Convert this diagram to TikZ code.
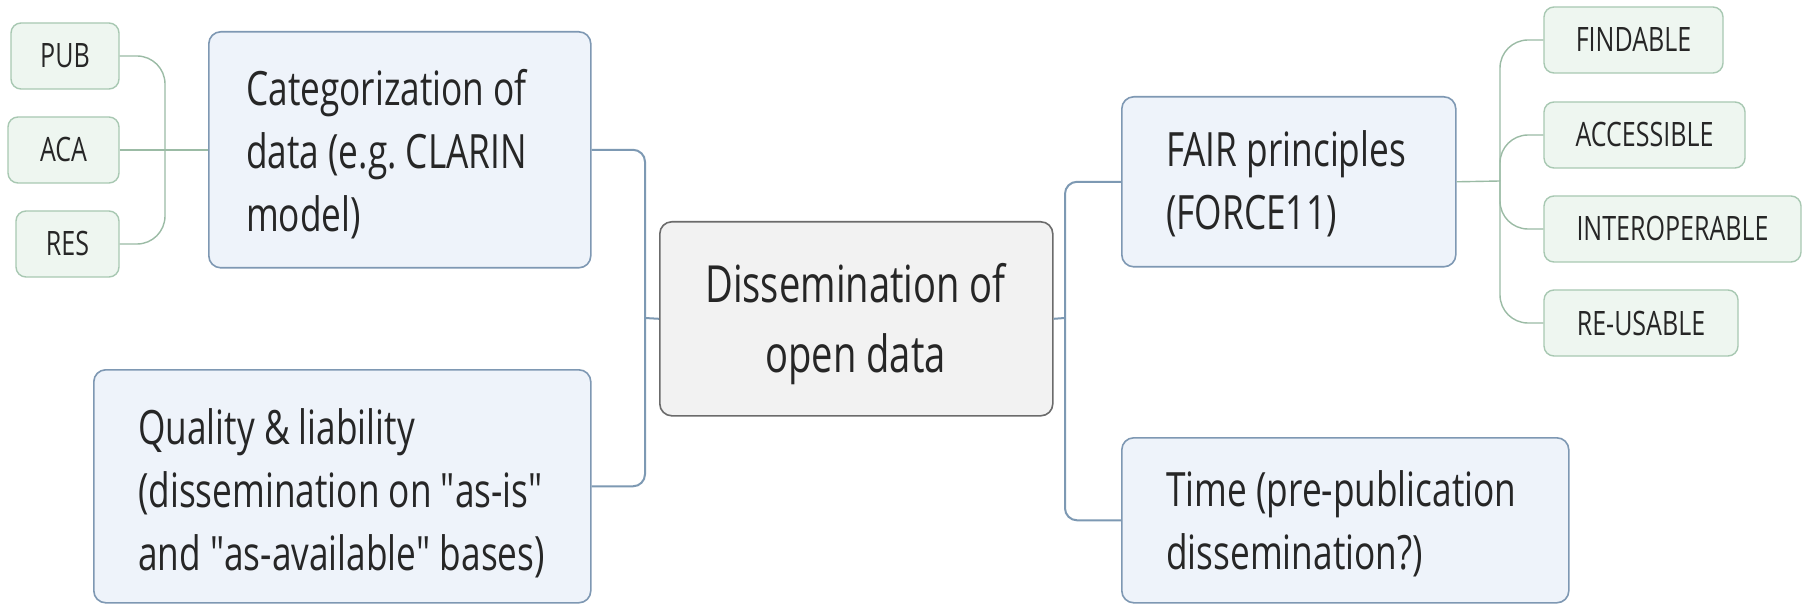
\documentclass[tikz,border=0pt]{standalone}
\usepackage{fontspec}
\setmainfont{Open Sans}[FakeStretch=0.745]
% a face without TeX ligature mapping, for straight double quotes
\newfontface\plainquotes{Open Sans}[FakeStretch=0.745]
\newcommand\dq{{\plainquotes"}}
\usetikzlibrary{calc}

\definecolor{mainfill}{HTML}{EEF3FA}
\definecolor{mainedge}{HTML}{7E98B3}
\definecolor{centerfill}{HTML}{F2F2F2}
\definecolor{centeredge}{HTML}{6B6B6B}
\definecolor{leaffill}{HTML}{EEF6F0}
\definecolor{leafedge}{HTML}{A8C8B2}
\definecolor{mainlinecol}{HTML}{7D99B3}
\definecolor{leaflinecol}{HTML}{9BBBA5}
\definecolor{textcol}{HTML}{262626}

\begin{document}
\begin{tikzpicture}[x=1pt, y=-1pt,
  topicbox/.style={rectangle, rounded corners=12pt, draw=mainedge, fill=mainfill,
    line width=1.6pt, inner sep=0pt, anchor=north west},
  rootbox/.style={rectangle, rounded corners=12pt, draw=centeredge, fill=centerfill,
    line width=1.6pt, inner sep=0pt, anchor=north west},
  leafbox/.style={rectangle, rounded corners=10pt, draw=leafedge, fill=leaffill,
    line width=1.4pt, inner sep=0pt, minimum height=66pt, text=textcol,
    font=\fontsize{33.6}{40}\selectfont, text height=24pt, text depth=0pt},
  % the base anchor of a multi-line text is the baseline of its last line
  topictext/.style={anchor=base west, align=left, inner sep=0pt, text=textcol,
    font=\fontsize{47.3}{63}\selectfont},
  roottext/.style={anchor=base, align=center, inner sep=0pt, text=textcol,
    font=\fontsize{51.2}{70}\selectfont},
  mainline/.style={draw=mainlinecol, line width=2pt, rounded corners=12pt},
  leafline/.style={draw=leaflinecol, line width=1.4pt, rounded corners=28pt}
]
\useasboundingbox (0,0) rectangle (1808,604);
\fill[white] (0,0) rectangle (1808,604);

% central topic
\node[rootbox, minimum width=393pt, minimum height=194pt] (root) at (659,221) {};
\node[roottext] (root-text) at (855.5,372) {Dissemination of\\open data};

% left main topics
\node[topicbox, minimum width=382pt, minimum height=236pt] (cat) at (208,31) {};
\node[topictext] (cat-text) at (246,232) {Categorization of\\data (e.g.\ CLARIN\\model)};

\node[topicbox, minimum width=497pt, minimum height=233pt] (qual) at (93,369) {};
\node[topictext] (qual-text) at (138,570) {Quality \& liability\\(dissemination on \dq as-is\dq\\and \dq as-available\dq\ bases)};

% right main topics
\node[topicbox, minimum width=334pt, minimum height=170pt] (fair) at (1121,96) {};
\node[topictext] (fair-text) at (1166,230) {FAIR principles\\(FORCE11)};

\node[topicbox, minimum width=447pt, minimum height=165pt] (time) at (1121,437) {};
\node[topictext] (time-text) at (1166,569) {Time (pre-publication\\dissemination?)};

% data categories
\node[leafbox, minimum width=108pt] (pub) at (65,56) {PUB};
\node[leafbox, minimum width=111pt] (aca) at (63.5,150) {ACA};
\node[leafbox, minimum width=103pt] (res) at (67.5,244) {RES};

% FAIR principles
\node[leafbox, minimum width=179pt] (find)  at (1633.5,40)  {FINDABLE};
\node[leafbox, minimum width=201pt] (acc)   at (1644.5,135) {ACCESSIBLE};
\node[leafbox, minimum width=257pt] (inter) at (1672.5,229) {INTEROPERABLE};
\node[leafbox, minimum width=194pt] (reuse) at (1641,323)   {RE-USABLE};

% junction points
\coordinate (jml) at (645,318);
\coordinate (jmr) at (1065,318);
\coordinate (jl) at (165,150);
\coordinate (jr) at (1500,181);

% main branches
\draw[mainline] (cat.east) -| (jml);
\draw[mainline] (qual.east) -| (jml);
\draw[mainline] (root.west) -- (jml);
\draw[mainline] (root.east) -- (jmr);
\draw[mainline] (jmr) |- (fair.west);
\draw[mainline] (jmr) |- (time.west);

% category branches
\draw[leafline] (pub.east) -| (jl);
\draw[leafline] (res.east) -| (jl);
\draw[leafline] (aca.east) -- (aca.east -| cat.west);

% principle branches
\draw[leafline] (fair.east) -- (jr);
\draw[leafline] (jr) |- (find.west);
\draw[leafline] (jr) |- (acc.west);
\draw[leafline] (jr) |- (inter.west);
\draw[leafline] (jr) |- (reuse.west);
\end{tikzpicture}
\end{document}
